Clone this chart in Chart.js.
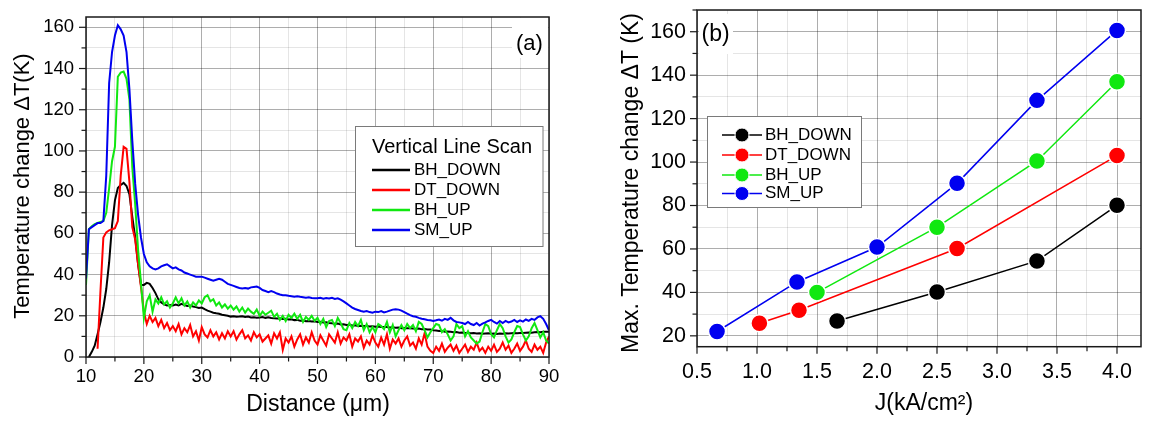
<!DOCTYPE html>
<html>
<head>
<meta charset="utf-8">
<script src="https://cdn.jsdelivr.net/npm/chart.js@4.4.0/dist/chart.umd.min.js"></script>
<style>
  html, body { margin: 0; padding: 0; background: #fff; }
  #wrap { position: relative; width: 1151px; height: 421px; overflow: hidden; }
  canvas { position: absolute; top: 0; }
  #scan { left: 0; }
  #peak { left: 575px; }
</style>
</head>
<body>
<div id="wrap">
  <canvas id="scan" width="575" height="421"></canvas>
  <canvas id="peak" width="576" height="421"></canvas>
</div>
<script>
// ---------- (a) vertical line scan, temperature change vs distance ----------
const seriesNames = ['BH_DOWN', 'DT_DOWN', 'BH_UP', 'SM_UP'];

const distance = [
  10, 10.5, 11, 11.5, 12, 12.5, 13, 13.5, 14, 14.5,
  15, 15.5, 16, 16.5, 17, 17.5, 18, 18.5, 19, 19.5,
  20, 20.5, 21, 21.5, 22, 22.5, 23, 23.5, 24, 24.5,
  25, 25.5, 26, 26.5, 27, 27.5, 28, 28.5, 29, 29.5,
  30, 30.5, 31, 31.5, 32, 32.5, 33, 33.5, 34, 34.5,
  35, 35.5, 36, 36.5, 37, 37.5, 38, 38.5, 39, 39.5,
  40, 40.5, 41, 41.5, 42, 42.5, 43, 43.5, 44, 44.5,
  45, 45.5, 46, 46.5, 47, 47.5, 48, 48.5, 49, 49.5,
  50, 50.5, 51, 51.5, 52, 52.5, 53, 53.5, 54, 54.5,
  55, 55.5, 56, 56.5, 57, 57.5, 58, 58.5, 59, 59.5,
  60, 60.5, 61, 61.5, 62, 62.5, 63, 63.5, 64, 64.5,
  65, 65.5, 66, 66.5, 67, 67.5, 68, 68.5, 69, 69.5,
  70, 70.5, 71, 71.5, 72, 72.5, 73, 73.5, 74, 74.5,
  75, 75.5, 76, 76.5, 77, 77.5, 78, 78.5, 79, 79.5,
  80, 80.5, 81, 81.5, 82, 82.5, 83, 83.5, 84, 84.5,
  85, 85.5, 86, 86.5, 87, 87.5, 88, 88.5, 89, 89.5,
  90
];

const scanBhDown = [
  null, 0, 2.5, 5.5, 11, 17, 24, 33, 46, 64,
  76, 82, 83.5, 84.5, 83, 79, 68, 58, 45, 35,
  35, 36, 35.5, 33.5, 31, 28, 26.5, 25.5, 25, 25.2,
  25, 25.5, 25, 25.8, 25.2, 24.8, 25, 24.5, 24.2, 23.8,
  24, 23.2, 22.5, 22, 21.5, 21.2, 21, 20.5, 20.3, 20,
  19.6, 19.8, 19.5, 19.6, 19.8, 19.4, 19.6, 19.2, 19.3, 19,
  19.2, 19.4, 19, 19.3, 18.9, 18.8, 18.7, 18.8, 18.5, 18.6,
  18.2, 18.3, 17.9, 18, 17.6, 17.7, 17.4, 17.5, 17.2, 17.3,
  17, 17.1, 16.7, 16.8, 16.5, 16.4, 16.1, 16.2, 15.8, 15.9,
  15.5, 15.6, 15.3, 15.4, 15.1, 15.2, 15, 15.1, 14.8, 14.9,
  14.7, 14.8, 14.6, 14.5, 14.6, 14.3, 14.4, 14.2, 14.3, 14,
  14.1, 13.9, 14, 13.8, 13.7, 13.8, 13.5, 13.6, 13.3, 13.4,
  13, 12.9, 12.6, 12.7, 12.3, 12.4, 12.2, 12, 12.1, 11.8,
  11.9, 11.6, 11.7, 11.5, 11.6, 11.4, 11.5, 11.3, 11.4, 11.5,
  11.3, 11.4, 11.2, 11.4, 11.3, 11.5, 11.4, 11.5, 11.6, 11.5,
  11.7, 11.6, 11.8, 11.9, 11.8, 12, 12.1, 12, 12.2, 12.3,
  12.3
];

const scanDtDown = [
  null, null, null, null, 4, 32, 58, 60.5, 61.5, 62,
  62.5, 66, 88, 102, 101, 85, 63, 57, 45, 34,
  22, 16, 20, 17, 19, 15, 18, 14, 16.5, 13,
  15, 12.5, 16, 11, 14, 12, 15.5, 10, 12.5, 8,
  14.5, 11, 9.5, 13, 10, 12, 8.5, 11.5, 9, 12.5,
  10, 12.5, 8.5, 11, 13, 9, 10.5, 8, 12, 9.5,
  11, 7.5, 9, 10.5, 6.5, 11.5, 9, 12, 3.5, 9,
  7, 10, 5, 8.5, 11, 6, 9.5, 7, 12, 8,
  6, 10.5, 8, 5.5, 11, 9, 7, 12, 6.5, 9.5,
  8, 11, 5, 9, 7.5, 10, 4.5, 8, 6, 10.5,
  7, 5, 9.5, 6, 11, 4, 8.5, 6.5, 9, 5,
  8, 10, 5.5, 7, 4, 9, 6, 11.5, 5, 3,
  2, 5, 3, 6.5, 2.5, 4.5, 6, 3, 5.5, 2,
  4, 6, 2.5, 5, 3.5, 7, 3, 4.5, 2, 5,
  3, 6, 2.5, 4, 7, 3.5, 5.5, 2, 4, 6.5,
  3, 5, 8, 4, 2.5, 6, 3.5, 5, 2, 7,
  10
];

const scanBhUp = [
  35, 62, 63.5, 64.5, 65, 65.5, 66, 70, 82, 95,
  102, 136, 138, 138.5, 135, 125, 92, 74, 52, 36,
  19, 27, 30, 22, 28, 26, 29, 25.5, 27, 24,
  26, 29, 26, 28.5, 25, 27, 24, 26.5, 25, 27.5,
  26, 29, 30, 27, 28, 25, 26.5, 24, 25.5, 23.5,
  25, 23, 24.5, 22, 24, 21.5, 23.5, 22, 21, 23,
  20, 22, 20.5, 21.5, 22.5, 19.5, 21, 18, 20, 17.5,
  20.5, 19, 21, 18.5, 20.5, 17, 19.5, 18, 20, 17.5,
  19, 16, 18.5, 14.5, 17.5, 18, 15, 19, 16.5, 13.5,
  13, 16.5, 14, 17, 15, 18, 13, 16, 12, 14.5,
  12, 16, 15, 13.5, 17, 12, 15.5, 10, 13, 15.5,
  13, 16, 14, 15.5, 12.5, 17, 16, 13, 9.5, 12,
  14, 16, 15.5, 12, 13.5, 11, 8, 10, 16, 14,
  15, 10, 12.5, 9.5, 8, 6.5, 7.5, 12, 16, 15,
  11, 9.5, 13, 16, 14, 10, 7, 8.5, 12, 15,
  14.5, 11, 8, 10, 14, 16.5, 13, 9.5, 12, 8,
  6.5
];

const scanSmUp = [
  38, 62, 63, 64, 65, 65, 66, 88, 133, 148,
  156, 161, 159, 156, 148, 130, 105, 84, 69, 58,
  50, 46, 44, 43, 42.5, 43, 44, 44.5, 45, 44,
  43, 43.5, 42.5, 42, 41, 40.5, 40, 39.5, 39, 39,
  39, 38.5, 38, 37.5, 37, 37.5, 38, 37.5, 36.5, 35.5,
  35, 34.5, 34, 33.5, 33.3, 33.5, 33.2, 33.8, 34, 34.2,
  33.5, 32.5, 32, 31.5, 32, 31.5, 30.8, 30.3, 30, 30,
  29.7, 29.5, 29.3, 29.5, 29.2, 29, 28.8, 29, 28.6, 28.5,
  28.5, 28.7, 28.3, 28.6, 28.4, 28.7, 28.2, 28.5, 27.8, 27,
  26, 25, 24, 23.3, 22.8, 22.3, 22, 22.3, 21.8, 21.5,
  22, 21.8, 22.3, 21.6, 22, 22.5, 23, 23.2, 23, 22.5,
  21.8, 21, 20.3, 19.8, 19.5, 19, 18.6, 18.3, 18, 17.8,
  17.5, 17.8, 18.2, 17.6, 18.5, 18, 19, 17.8, 17, 16.8,
  16.5, 16, 17, 16, 15.5, 16.5, 15.3, 16.2, 16.8, 17.5,
  18, 17, 16.2, 17.5, 16.5, 17.5, 16.8, 17.2, 18, 17,
  17.8, 17.2, 18.2, 17.5, 18.5, 18, 19.2, 19.8, 18.5, 16,
  13
];

// ---------- (b) peak temperature change vs current density ----------
const jBhDown = [1.667, 2.5, 3.333, 4.0];
const tBhDown = [26.8, 40.2, 54.5, 80.1];
const jDtDown = [1.02, 1.35, 2.667, 4.0];
const tDtDown = [25.8, 31.8, 60.2, 103];
const jBhUp = [1.5, 2.5, 3.333, 4.0];
const tBhUp = [40, 70, 100.5, 137];
const jSmUp = [0.667, 1.333, 2.0, 2.667, 3.333, 4.0];
const tSmUp = [22, 44.8, 60.9, 90.2, 128.4, 160.6];

// tick labels shown on the major ticks
const scanXTicks = [10, 20, 30, 40, 50, 60, 70, 80, 90];
const scanYTicks = [0, 20, 40, 60, 80, 100, 120, 140, 160];
const peakXTicks = ['0.5', '1.0', '1.5', '2.0', '2.5', '3.0', '3.5', '4.0'];
const peakYTicks = [20, 40, 60, 80, 100, 120, 140, 160];

const seriesColors = ['#000000', '#ff0000', '#10e810', '#0000f0'];

const FONT = "'Liberation Sans', Arial, Helvetica, sans-serif";
const MAJOR_GRID = 'rgba(0,0,0,0.32)';
const MINOR_GRID = 'rgba(0,0,0,0.10)';

function isMultiple(v, step) {
  const r = v / step;
  return Math.abs(r - Math.round(r)) < 1e-6;
}

function gridColor(major, minor) {
  return (c) => {
    if (!c.tick) return 'rgba(0,0,0,0)';
    const v = c.tick.value;
    if (isMultiple(v, major)) return MAJOR_GRID;
    if (isMultiple(v, minor)) return MINOR_GRID;
    return 'rgba(0,0,0,0)';
  };
}

function labelFrom(list, major) {
  return (value) => {
    if (!isMultiple(value, major)) return '';
    const hit = list.find(l => Math.abs(Number(l) - value) < 1e-6);
    return hit === undefined ? '' : String(hit);
  };
}

function fixWidth(w) {
  return (scale) => { scale.width = w; scale.paddingTop = 0; scale.paddingBottom = 0; };
}
function fixHeight(h) {
  return (scale) => { scale.height = h; scale.paddingLeft = 0; scale.paddingRight = 0; };
}

// Frame, tick marks, axis titles, panel tag and legend box
const decor = {
  id: 'decor',
  afterDatasetsDraw(chart, args, o) {
    const ctx = chart.ctx, a = chart.chartArea;
    const xs = chart.scales.x, ys = chart.scales.y;
    ctx.save();

    // panel tag on a white patch
    ctx.fillStyle = '#fff';
    ctx.fillRect(o.tag.patch[0], o.tag.patch[1], o.tag.patch[2], o.tag.patch[3]);
    ctx.fillStyle = '#000';
    ctx.font = o.tag.size + 'px ' + FONT;
    ctx.textAlign = 'left';
    ctx.textBaseline = 'middle';
    ctx.fillText(o.tag.text, o.tag.x, o.tag.y);

    // frame
    ctx.strokeStyle = '#1a1a1a';
    ctx.lineWidth = 1.5;
    ctx.strokeRect(a.left, a.top, a.right - a.left, a.bottom - a.top);

    // outward tick marks
    ctx.lineWidth = 1.2;
    xs.ticks.forEach(t => {
      const len = isMultiple(t.value, o.xMajor) ? 7 : (isMultiple(t.value, o.xMinor) ? 4.5 : 0);
      if (!len) return;
      const px = xs.getPixelForValue(t.value);
      ctx.beginPath(); ctx.moveTo(px, a.bottom); ctx.lineTo(px, a.bottom + len); ctx.stroke();
    });
    ys.ticks.forEach(t => {
      const len = isMultiple(t.value, o.yMajor) ? 7 : (isMultiple(t.value, o.yMinor) ? 4.5 : 0);
      if (!len) return;
      const py = ys.getPixelForValue(t.value);
      ctx.beginPath(); ctx.moveTo(a.left, py); ctx.lineTo(a.left - len, py); ctx.stroke();
    });

    // axis titles
    ctx.fillStyle = '#000';
    ctx.font = o.titleSize + 'px ' + FONT;
    ctx.textAlign = 'center';
    ctx.textBaseline = 'middle';
    ctx.fillText(o.xTitle.text, o.xTitle.x, o.xTitle.y);
    ctx.save();
    ctx.translate(o.yTitle.x, o.yTitle.y);
    ctx.rotate(-Math.PI / 2);
    ctx.font = o.yTitle.size + 'px ' + FONT;
    ctx.fillText(o.yTitle.text, 0, 0);
    ctx.restore();

    // legend
    const L = o.legend;
    ctx.fillStyle = '#fff';
    ctx.fillRect(L.box[0], L.box[1], L.box[2], L.box[3]);
    ctx.strokeStyle = '#7a7a7a';
    ctx.lineWidth = 1;
    ctx.strokeRect(L.box[0], L.box[1], L.box[2], L.box[3]);
    if (L.title) {
      ctx.fillStyle = '#000';
      ctx.font = L.titleSize + 'px ' + FONT;
      ctx.textAlign = 'left';
      ctx.fillText(L.title, L.titleX, L.titleY);
    }
    chart.data.datasets.forEach((ds, i) => {
      const y = L.rows[i];
      ctx.strokeStyle = ds.borderColor;
      ctx.lineWidth = L.lineWidth;
      ctx.beginPath(); ctx.moveTo(L.line[0], y); ctx.lineTo(L.line[1], y); ctx.stroke();
      if (L.marker) {
        ctx.fillStyle = ds.pointBackgroundColor;
        ctx.strokeStyle = '#fff';
        ctx.lineWidth = 1;
        ctx.beginPath(); ctx.arc(L.marker.x, y, L.marker.r, 0, Math.PI * 2); ctx.fill(); ctx.stroke();
      }
      ctx.fillStyle = '#000';
      ctx.font = L.textSize + 'px ' + FONT;
      ctx.textAlign = 'left';
      ctx.textBaseline = 'middle';
      ctx.fillText(ds.label, L.textX, y);
    });
    ctx.restore();
  }
};

// ---------- chart (a) ----------
const scanSeries = [scanBhDown, scanDtDown, scanBhUp, scanSmUp];
new Chart(document.getElementById('scan'), {
  type: 'line',
  data: {
    datasets: scanSeries.map((vals, i) => ({
      label: seriesNames[i],
      data: distance.map((d, k) => ({ x: d, y: vals[k] })),
      borderColor: seriesColors[i],
      borderWidth: 2,
      pointRadius: 0,
      tension: 0,
      order: 4 - i
    }))
  },
  options: {
    responsive: false,
    animation: false,
    devicePixelRatio: 1,
    layout: { padding: { top: 17, right: 26, bottom: 0, left: 0 } },
    plugins: {
      legend: { display: false },
      tooltip: { enabled: false },
      decor: {
        xMajor: 10, xMinor: 5, yMajor: 20, yMinor: 10,
        titleSize: 23,
        xTitle: { text: 'Distance (\u03bcm)', x: 318, y: 405 },
        yTitle: { text: 'Temperature change \u0394T(K)', x: 23, y: 186, size: 22 },
        tag: { text: '(a)', x: 516, y: 44, size: 22, patch: [512, 18, 36, 40] },
        legend: {
          box: [355.5, 126.5, 187.5, 120],
          title: 'Vertical Line Scan', titleSize: 20, titleX: 372, titleY: 147,
          rows: [170, 190, 210, 230],
          line: [372, 410], lineWidth: 2.5,
          textX: 414, textSize: 17
        }
      }
    },
    scales: {
      x: {
        type: 'linear', min: 10, max: 90,
        afterFit: fixHeight(64),
        border: { display: false },
        grid: { color: gridColor(10, 5), lineWidth: 1, drawTicks: false },
        ticks: {
          stepSize: 5, maxTicksLimit: 100, autoSkip: false, includeBounds: false,
          maxRotation: 0, minRotation: 0,
          padding: 9, color: '#000', font: { family: FONT, size: 18.5 },
          callback: labelFrom(scanXTicks, 10)
        }
      },
      y: {
        type: 'linear', min: 0, max: 165,
        afterFit: fixWidth(86),
        border: { display: false },
        grid: { color: gridColor(20, 10), lineWidth: 1, drawTicks: false },
        ticks: {
          stepSize: 10, maxTicksLimit: 100, autoSkip: false, includeBounds: false,
          padding: 12, color: '#000', font: { family: FONT, size: 18.5 },
          callback: labelFrom(scanYTicks, 20)
        }
      }
    }
  },
  plugins: [decor]
});

// ---------- chart (b) ----------
const peakX = [jBhDown, jDtDown, jBhUp, jSmUp];
const peakY = [tBhDown, tDtDown, tBhUp, tSmUp];
new Chart(document.getElementById('peak'), {
  type: 'scatter',
  data: {
    datasets: peakX.map((xs, i) => ({
      label: seriesNames[i],
      data: xs.map((x, k) => ({ x: x, y: peakY[i][k] })),
      showLine: true,
      borderColor: seriesColors[i],
      borderWidth: 1.5,
      pointRadius: 8.5,
      pointBackgroundColor: seriesColors[i],
      pointBorderColor: '#ffffff',
      pointBorderWidth: 1.5,
      tension: 0,
      order: 4 - i
    }))
  },
  options: {
    responsive: false,
    animation: false,
    devicePixelRatio: 1,
    layout: { padding: { top: 9.5, right: 1, bottom: 0, left: 0 } },
    plugins: {
      legend: { display: false },
      tooltip: { enabled: false },
      decor: {
        xMajor: 0.5, xMinor: 0.25, yMajor: 20, yMinor: 10,
        titleSize: 23,
        xTitle: { text: 'J(kA/cm\u00b2)', x: 349, y: 404 },
        yTitle: { text: 'Max. Temperature change \u0394T (K)', x: 57, y: 183, size: 23 },
        tag: { text: '(b)', x: 126.5, y: 35, size: 23, patch: [124, 14, 34, 40] },
        legend: {
          box: [132.5, 116.5, 154, 91],
          rows: [135, 155, 175, 193.5],
          line: [147, 187], lineWidth: 1.5,
          marker: { x: 167, r: 7 },
          textX: 190, textSize: 17
        }
      }
    },
    scales: {
      x: {
        type: 'linear', min: 0.5, max: 4.2,
        afterFit: fixHeight(74.3),
        border: { display: false },
        grid: { color: gridColor(0.5, 0.25), lineWidth: 1, drawTicks: false },
        ticks: {
          stepSize: 0.25, maxTicksLimit: 100, autoSkip: false, includeBounds: false,
          maxRotation: 0, minRotation: 0,
          padding: 12, color: '#000', font: { family: FONT, size: 21.5 },
          callback: labelFrom(peakXTicks, 0.5)
        }
      },
      y: {
        type: 'linear', min: 15, max: 170,
        afterFit: fixWidth(122),
        border: { display: false },
        grid: { color: gridColor(20, 10), lineWidth: 1, drawTicks: false },
        ticks: {
          stepSize: 10, maxTicksLimit: 100, autoSkip: false, includeBounds: false,
          padding: 11, color: '#000', font: { family: FONT, size: 21.5 },
          callback: labelFrom(peakYTicks, 20)
        }
      }
    }
  },
  plugins: [decor]
});
</script>
</body>
</html>
